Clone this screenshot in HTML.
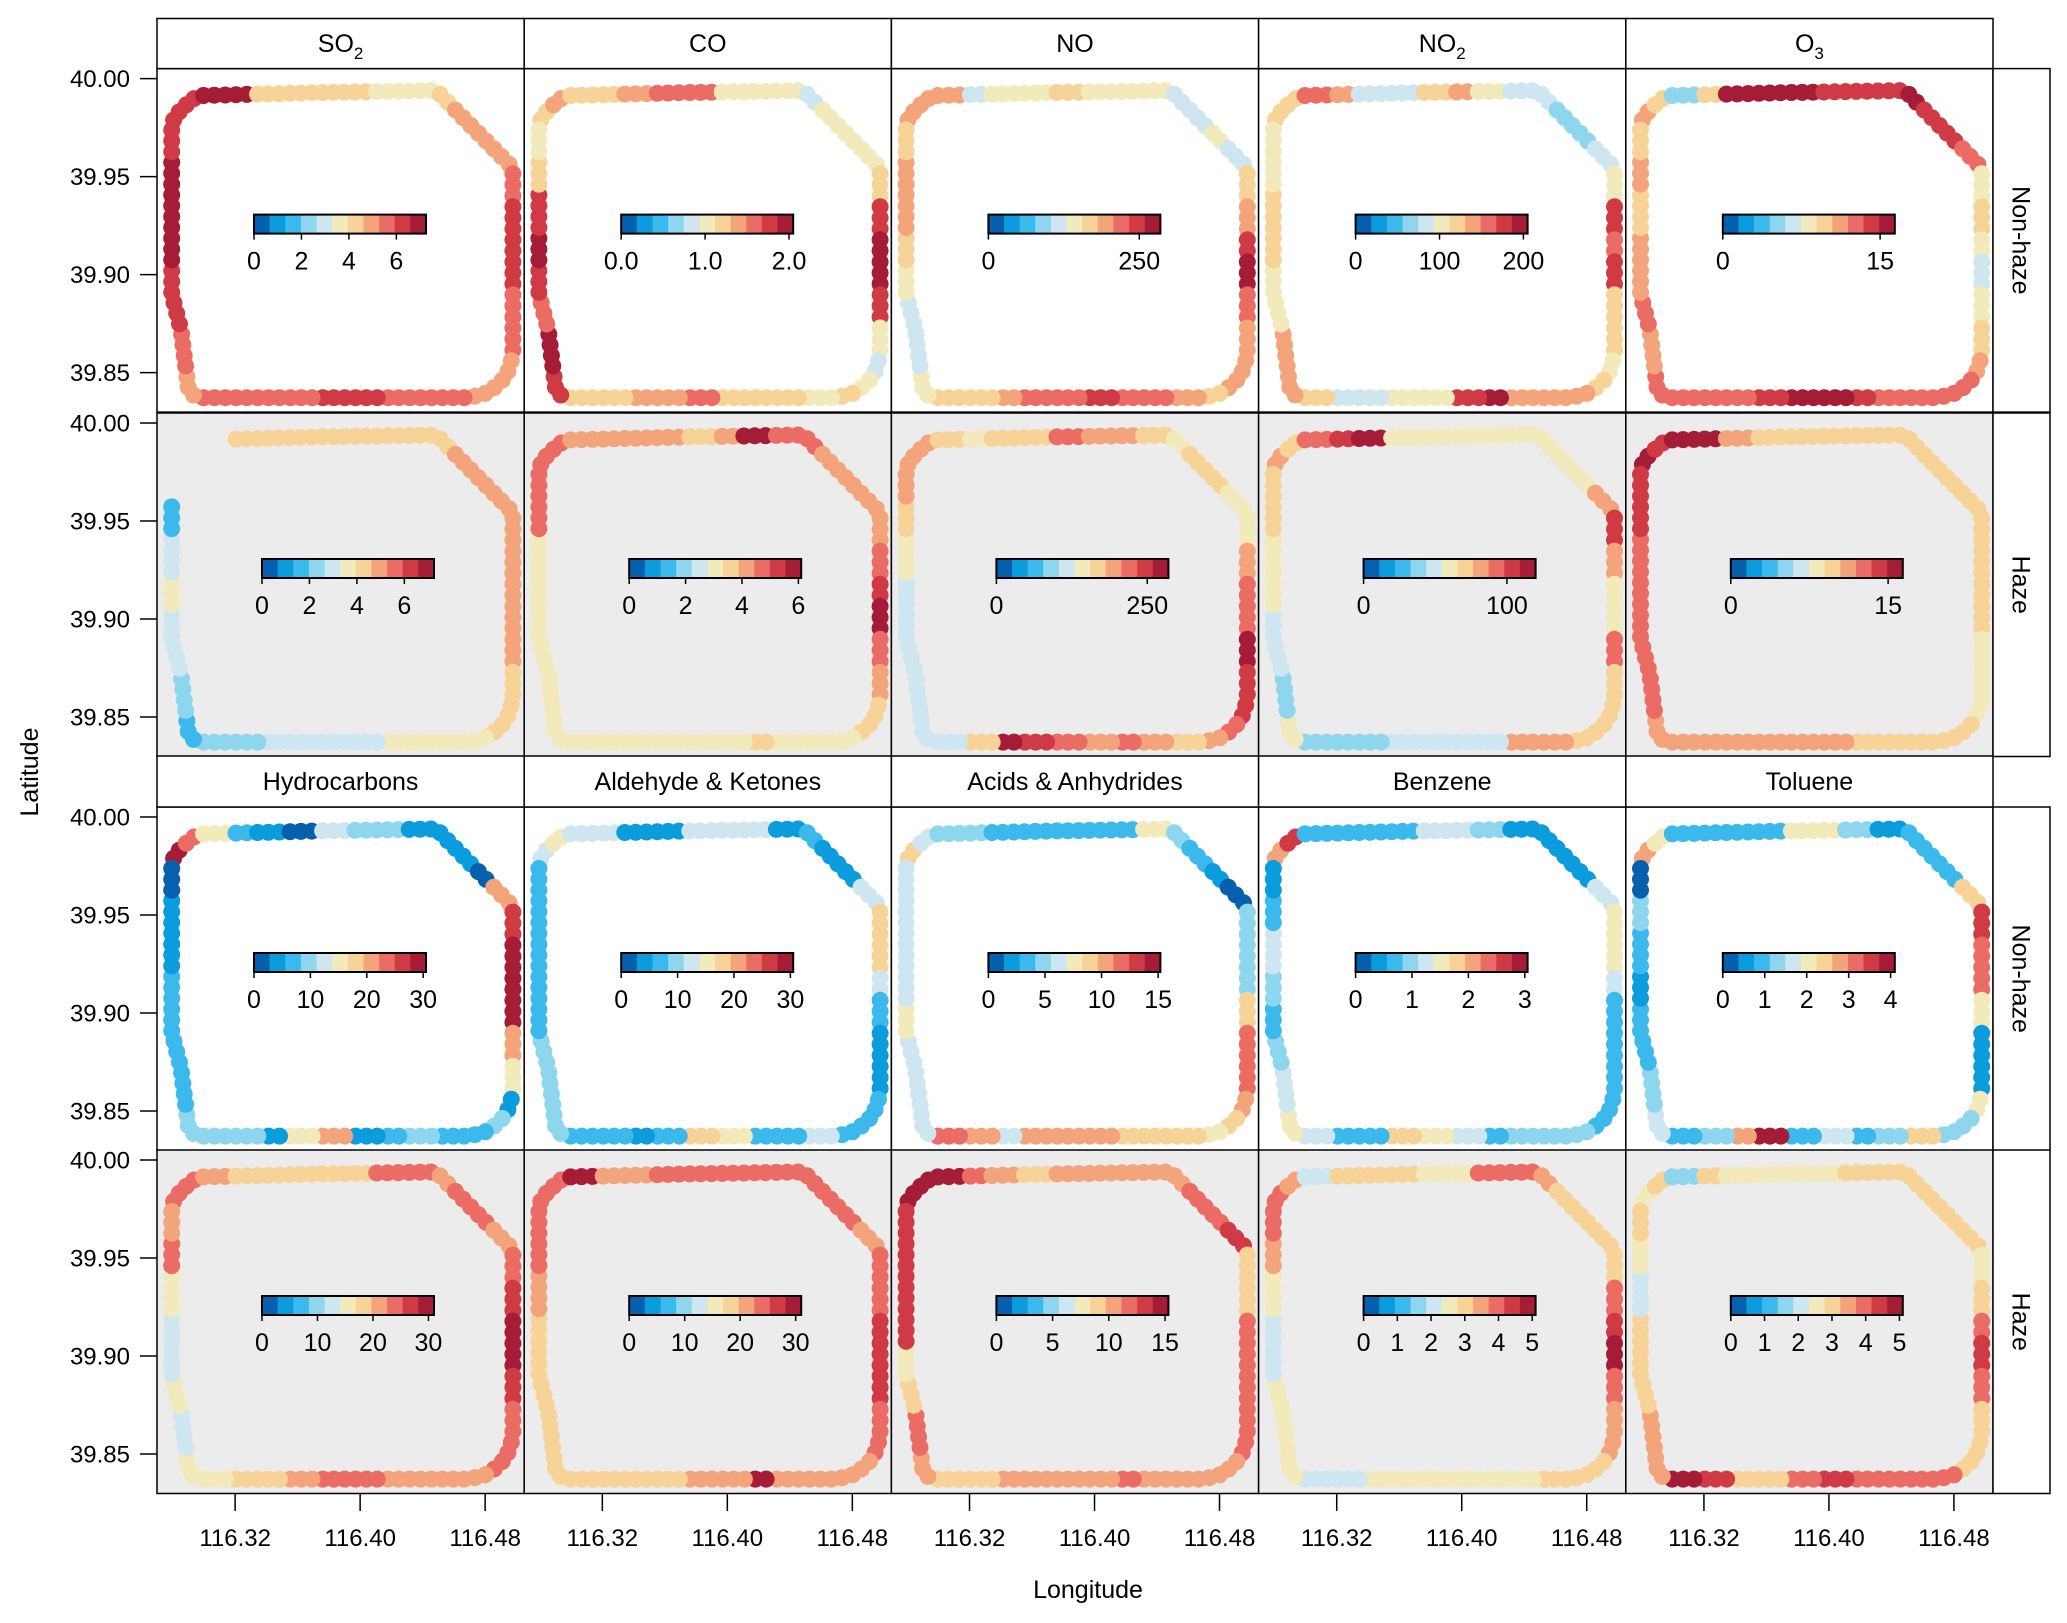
<!DOCTYPE html>
<html><head><meta charset="utf-8">
<style>
html,body{margin:0;padding:0;background:#fff;}
svg{display:block;font-family:"Liberation Sans",Arial,sans-serif;}
</style></head>
<body>
<svg id="chart" width="2067" height="1623" viewBox="0 0 2067 1623" xmlns="http://www.w3.org/2000/svg">
<rect x="0" y="0" width="2067" height="1623" fill="#fff"/>
<g id="layer"></g>
</svg>
<script>
// Colour levels (0 = dark blue ... 10 = dark red)
const palette = ["#0660ae","#0a9cdc","#3bb9ec","#8ed5ee","#cde6ef","#f3eabb","#f7d397","#f3a47b","#eb6b65","#d03a45","#a51c36"];
// Track sections
const sectionNames = ["tl","top","diag","right","br","bottom","bl","left"];
const sectionCounts = [2,8,4,6,3,9,2,6];
const sectionLons = [[116.2794,116.2819,116.2904,116.2963],[116.2963,116.37,116.4487],[116.4487,116.4978],[116.4978,116.4978],[116.4978,116.4935,116.4825,116.47],[116.47,116.2963],[116.2963,116.2904,116.2853],[116.2853,116.2819,116.2794,116.2794]];
const sectionLats = [[39.9765,39.9812,39.9879,39.9913],[39.9913,39.9928,39.9939],[39.9939,39.9543],[39.9543,39.8587],[39.8587,39.848,39.8399,39.8372],[39.8372,39.8372],[39.8372,39.8399,39.8722],[39.8722,39.8823,39.8900,39.9765]];

const colTitles = [["SO","2"],["CO",""],["NO",""],["NO","2"],["O","3"]];
const colTitles2 = ["Hydrocarbons","Aldehyde & Ketones","Acids & Anhydrides","Benzene","Toluene"];
const rowLabels = ["Non-haze","Haze"];
const xTicks = [116.32,116.40,116.48];
const xTickLabels = ["116.32","116.40","116.48"];
const yTicks = [40.00,39.95,39.90,39.85];
const yTickLabels = ["40.00","39.95","39.90","39.85"];

const barMax = [7.25,2.05,285,205,16.4, 7.25,6.1,285,120,16.4, 30.5,30.5,15.2,3.05,4.1, 31,31,15.3,5.1,5.1];
const barTicks = [[0,2,4,6],[0,1,2],[0,250],[0,100,200],[0,15],
 [0,2,4,6],[0,2,4,6],[0,250],[0,100],[0,15],
 [0,10,20,30],[0,10,20,30],[0,5,10,15],[0,1,2,3],[0,1,2,3,4],
 [0,10,20,30],[0,10,20,30],[0,5,10,15],[0,1,2,3,4,5],[0,1,2,3,4,5]];
const barTickLabels = [["0","2","4","6"],["0.0","1.0","2.0"],["0","250"],["0","100","200"],["0","15"],
 ["0","2","4","6"],["0","2","4","6"],["0","250"],["0","100"],["0","15"],
 ["0","10","20","30"],["0","10","20","30"],["0","5","10","15"],["0","1","2","3"],["0","1","2","3","4"],
 ["0","10","20","30"],["0","10","20","30"],["0","5","10","15"],["0","1","2","3","4","5"],["0","1","2","3","4","5"]];

const so2NH = [9,9, 10,10,6,6,6,6,5,5, 6,7,7,7, 8,9,9,9,8,8, 7,7,7, 8,8,8,9,9,8,8,8,8, 7,8, 9,9,10,10,10,9];
const coNH  = [6,7, 6,6,7,8,8,5,5,5, 4,5,5,5, 6,9,10,10,9,5, 4,5,6, 5,6,6,6,8,7,7,6,6, 9,10, 8,9,10,9,6,5];
const noNH  = [7,7, 7,4,5,5,6,5,5,5, 4,4,5,4, 6,7,9,10,8,7, 7,7,6, 7,8,8,9,8,8,7,6,6, 5,4, 4,5,6,7,7,6];
const no2NH = [6,6, 8,7,4,4,6,7,5,4, 4,3,3,4, 5,9,8,9,6,6, 5,6,7, 7,7,10,9,5,5,4,4,6, 7,7, 5,5,6,6,5,5];
const o3NH  = [7,6, 3,6,10,10,10,9,9,9, 10,9,9,8, 5,6,5,4,5,6, 7,8,8, 8,8,9,10,10,9,8,8,8, 8,7, 8,7,7,6,7,6];
const so2H  = [null,null, null,6,6,6,6,6,6,6, 6,7,7,7, 7,7,7,7,7,6, 6,6,5, 5,5,5,4,4,4,4,3,3, 2,3, 4,4,5,4,2,null];
const coH   = [8,8, 7,7,7,7,6,7,10,8, 8,7,7,7, 7,8,9,10,8,7, 6,6,5, 5,5,6,5,5,5,5,5,5, 5,5, 5,5,5,5,8,8];
const noH   = [7,7, 6,5,6,6,8,7,7,6, 5,6,6,5, 5,7,8,8,10,9, 9,8,7, 6,7,8,7,8,9,10,6,4, 4,4, 4,4,4,5,6,7];
const no2H  = [7,6, 8,9,10,5,5,5,5,5, 5,5,5,7, 9,7,5,5,8,6, 6,6,6, 7,7,4,4,4,4,3,3,3, 5,3, 4,4,5,5,6,6];
const o3H   = [10,9, 10,10,7,6,6,6,6,6, 6,6,6,6, 6,6,6,6,5,5, 5,6,6, 6,6,6,7,7,7,7,7,7, 7,8, 8,8,8,8,9,9];
const hcNH  = [10,8, 5,2,1,0,4,3,3,1, 1,1,0,7, 9,10,10,10,7,5, 1,3,2, 2,3,2,1,7,5,1,3,3, 3,2, 2,2,2,1,1,0];
const akNH  = [4,5, 4,4,1,1,4,4,4,1, 2,1,1,4, 6,6,4,2,1,1, 2,2,2, 4,2,2,5,6,2,1,2,2, 3,3, 3,2,2,2,2,2];
const aaNH  = [6,4, 3,3,2,2,2,2,2,5, 3,2,1,0, 3,3,3,6,8,8, 7,6,5, 6,6,6,7,7,7,4,7,8, 4,4, 4,5,4,4,4,4];
const bzNH  = [7,9, 2,2,2,2,4,4,3,1, 1,1,1,4, 5,5,4,2,2,2, 2,2,3, 3,3,2,4,5,6,2,2,4, 5,4, 3,2,3,4,2,1];
const tlNH  = [7,5, 2,2,2,2,5,5,3,1, 2,2,2,6, 9,8,8,5,1,1, 5,3,3, 6,3,2,4,2,10,7,3,2, 4,3, 2,2,1,2,3,0];
const hcH   = [8,8, 7,6,6,6,6,6,8,8, 7,8,8,7, 8,9,10,10,9,8, 8,8,7, 7,7,7,8,8,7,6,6,5, 5,4, 5,4,4,5,8,7];
const akH   = [8,8, 10,7,7,8,8,8,8,8, 8,8,8,7, 8,8,9,9,9,8, 8,7,7, 7,7,10,7,7,6,6,6,6, 6,6, 6,6,6,7,8,8];
const aaH   = [10,10, 10,8,7,6,7,7,7,7, 7,8,8,9, 6,6,8,8,8,8, 8,7,7, 7,7,8,7,7,7,7,6,6, 7,8, 6,5,9,9,9,9];
const bzH   = [8,7, 4,6,6,6,5,5,8,8, 7,6,6,6, 6,8,9,10,8,7, 7,6,6, 6,5,5,5,5,5,5,4,4, 5,5, 5,4,4,5,7,8];
const tlH   = [5,6, 3,6,5,5,5,5,6,6, 6,6,6,6, 5,6,8,9,8,6, 6,6,8, 8,8,8,9,8,6,6,9,10, 7,7, 6,6,6,4,5,6];
const panelLevels = [so2NH,coNH,noNH,no2NH,o3NH, so2H,coH,noH,no2H,o3H, hcNH,akNH,aaNH,bzNH,tlNH, hcH,akH,aaH,bzH,tlH];
const panelNames = ["so2","co","no","no2","o3","so2","co","no","no2","o3","hydrocarbons","aldehyde-ketones","acids-anhydrides","benzene","toluene","hydrocarbons","aldehyde-ketones","acids-anhydrides","benzene","toluene"];

const NS = "http://www.w3.org/2000/svg";
const layer = document.getElementById("layer");
const X0 = 157, COLW = 367.2, PH = 343.5;
const rowTops = [68.6, 413, 807, 1150];
const LON0 = 116.27, PXLON = 1562.5, LAT0 = 40.0051, PXLAT = 1960;
function xScale(c, lon){ return X0 + c*COLW + (lon - LON0)*PXLON; }
function yScale(r, lat){ return rowTops[r] + (LAT0 - lat)*PXLAT; }
function mk(tag, attrs, parent){ const e = document.createElementNS(NS, tag); for (const k in attrs) e.setAttribute(k, attrs[k]); (parent||layer).appendChild(e); return e; }

for (let r = 0; r < 4; r++) {
  for (let c = 0; c < 5; c++) {
    const p = r*5 + c;
    const haze = (r % 2 === 1);
    const g = mk("g", {});
    
    
    const bg = mk("rect", {x: X0 + c*COLW, y: rowTops[r], width: COLW, height: PH, fill: haze ? "#ececec" : "#ffffff"}, g);
    
    
    const levels = panelLevels[p];
    let off = 0;
    for (let s = 0; s < sectionNames.length; s++) {
      const lons = sectionLons[s], lats = sectionLats[s];
      const pts = lons.map((lo, i) => [xScale(c, lo), yScale(r, lats[i])]);
      let lens = [0];
      for (let i = 1; i < pts.length; i++) lens.push(lens[i-1] + Math.hypot(pts[i][0]-pts[i-1][0], pts[i][1]-pts[i-1][1]));
      const L = lens[lens.length-1];
      const n = Math.max(1, Math.round(L / 11));
      for (let k = 0; k < n; k++) {
        const d = (k + 0.5) / n * L;
        let i = 1; while (i < lens.length - 1 && lens[i] < d) i++;
        const t = (d - lens[i-1]) / ((lens[i] - lens[i-1]) || 1);
        const x = pts[i-1][0] + t*(pts[i][0]-pts[i-1][0]);
        const y = pts[i-1][1] + t*(pts[i][1]-pts[i-1][1]);
        const lv = levels[off + Math.min(sectionCounts[s]-1, Math.floor((k + 0.5) / n * sectionCounts[s]))];
        if (lv === null || lv === undefined) continue;
        const dot = mk("circle", {cx: x.toFixed(1), cy: y.toFixed(1), r: 8.5, fill: palette[lv]}, g);
        
        
      }
      off += sectionCounts[s];
    }
    const bx = X0 + c*COLW + (haze ? 105 : 97), by = rowTops[r] + 146, bw = 172, bh = 19;
    const cb = mk("g", {}, g);
    
    
    for (let k = 0; k < 11; k++) {
      const cell = mk("rect", {x: bx + k*bw/11, y: by, width: bw/11 + 0.5, height: bh, fill: palette[k]}, cb);
      
      
    }
    mk("rect", {x: bx, y: by, width: bw, height: bh, fill: "none", stroke: "#000", "stroke-width": 2}, cb);
    barTicks[p].forEach((v, i) => {
      const tx = bx + v / barMax[p] * bw;
      mk("line", {x1: tx, y1: by + bh, x2: tx, y2: by + bh + 6, stroke: "#000", "stroke-width": 1.5}, cb);
      const tl = mk("text", {x: tx, y: by + bh + 36, "font-size": 25, "text-anchor": "middle", fill: "#000"}, cb);
      tl.textContent = barTickLabels[p][i];
      
      
    });
    const border = mk("rect", {x: X0 + c*COLW, y: rowTops[r], width: COLW, height: PH, fill: "none", stroke: "#000", "stroke-width": 1.5}, g);
    
    
  }
  yTicks.forEach((v, i) => {
    const y = yScale(r, v);
    mk("line", {x1: 140, y1: y, x2: 157, y2: y, stroke: "#000", "stroke-width": 1.5});
    const t = mk("text", {x: 130, y: y + 8.5, "font-size": 24, "text-anchor": "end", fill: "#000"});
    t.textContent = yTickLabels[i];
    
    
  });
}
[0, 2].forEach((r, si) => {
  const top = si === 0 ? 18.5 : 756;
  const h = rowTops[r] - top;
  for (let c = 0; c < 5; c++) {
    const sx = X0 + c*COLW;
    const st = mk("rect", {x: sx, y: top, width: COLW, height: h, fill: "#fff", stroke: "#000", "stroke-width": 1.5});
    
    
    const t = mk("text", {x: sx + COLW/2, y: top + h/2 + 8.5, "font-size": 25, "text-anchor": "middle", fill: "#000"});
    
    
    if (si === 0) {
      const a = document.createElementNS(NS, "tspan"); a.textContent = colTitles[c][0]; t.appendChild(a);
      if (colTitles[c][1]) { const b = document.createElementNS(NS, "tspan"); b.setAttribute("dy", "7"); b.setAttribute("font-size", "17"); b.textContent = colTitles[c][1]; t.appendChild(b); }
    } else {
      t.textContent = colTitles2[c];
    }
  }
});
for (let r = 0; r < 4; r++) {
  const st = mk("rect", {x: 1993, y: rowTops[r], width: 57, height: PH, fill: "#fff", stroke: "#000", "stroke-width": 1.5});
  
  
  const cy = rowTops[r] + PH/2;
  const t = mk("text", {x: 2021, y: cy, "font-size": 25, "text-anchor": "middle", fill: "#000", transform: "rotate(90 2021 " + cy + ") translate(0 8.5)"});
  t.textContent = rowLabels[r % 2];
  
  
}
for (let c = 0; c < 5; c++) {
  xTicks.forEach((v, i) => {
    const x = xScale(c, v);
    mk("line", {x1: x, y1: 1493.5, x2: x, y2: 1511, stroke: "#000", "stroke-width": 1.5});
    const t = mk("text", {x: x, y: 1546, "font-size": 24, "text-anchor": "middle", fill: "#000"});
    t.textContent = xTickLabels[i];
    
    
  });
}
const xt = mk("text", {x: 1088, y: 1598, "font-size": 25, "text-anchor": "middle", fill: "#000"});
xt.textContent = "Longitude";


const yt = mk("text", {x: 29, y: 772, "font-size": 25, "text-anchor": "middle", fill: "#000", transform: "rotate(-90 29 772) translate(0 9)"});
yt.textContent = "Latitude";


</script>
</body></html>
